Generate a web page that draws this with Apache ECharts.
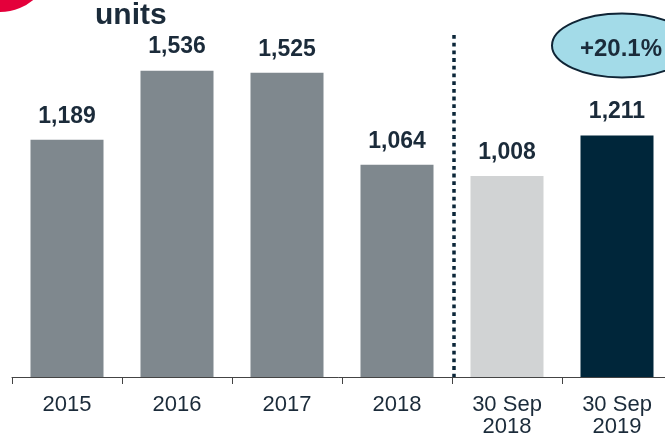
<!DOCTYPE html>
<html>
<head>
    <meta charset="utf-8">
    <script src="https://cdn.jsdelivr.net/npm/echarts@6/dist/echarts.min.js"></script>
</head>
<body style="margin:0">
<div id="main" style="width: 665px;height:438px;"></div>
<script type="text/javascript">
    // data
    var categories = ['2015', '2016', '2017', '2018', '30 Sep\n2018', '30 Sep\n2019'];
    var unitValues = [1189, 1536, 1525, 1064, 1008, 1211];
    var growthText = '+20.1%';

    var barColors = ['#7f888e', '#7f888e', '#7f888e', '#7f888e', '#d1d3d4', '#00263a'];
    var navy = '#1b2b3a';

    var myChart = echarts.init(document.getElementById('main'));

    var option = {
        animation: false,
        grid: {
            left: 12, top: 18, width: 660, height: 359,
            containLabel: false, outerBoundsMode: 'none'
        },
        xAxis: {
            type: 'category',
            data: categories,
            axisLine: { lineStyle: { color: '#444', width: 1 } },
            axisTick: { show: true, alignWithLabel: false, length: 7, lineStyle: { color: '#444' } },
            axisLabel: {
                color: navy,
                fontFamily: 'Liberation Sans, Arial',
                fontSize: 22,
                lineHeight: 22,
                margin: 17
            }
        },
        yAxis: {
            type: 'value',
            min: 0,
            max: 1800,
            show: false,
            splitLine: { show: false }
        },
        series: [{
            type: 'bar',
            barWidth: 73,
            data: unitValues.map(function (v, i) {
                return { value: v, itemStyle: { color: barColors[i] } };
            }),
            label: {
                show: true,
                position: 'top',
                distance: 12,
                color: navy,
                fontFamily: 'Liberation Sans, Arial',
                fontWeight: 'bold',
                fontSize: 23,
                lineHeight: 23,
                formatter: function (p) {
                    return p.value.toLocaleString('en-US');
                }
            }
        }]
    };

    myChart.setOption(option);

    // decorations placed from the axis scale
    var x3 = myChart.convertToPixel({ xAxisIndex: 0 }, 3);
    var x4 = myChart.convertToPixel({ xAxisIndex: 0 }, 4);
    var x5 = myChart.convertToPixel({ xAxisIndex: 0 }, 5);
    var base = myChart.convertToPixel({ yAxisIndex: 0 }, 0);
    var sepX = (x3 + x4) / 2 + 2;

    myChart.setOption({
        graphic: [
            {
                type: 'circle',
                shape: { cx: 0, cy: -40, r: 52 },
                style: { fill: '#e4003b' }
            },
            {
                type: 'text',
                x: 95,
                y: 16,
                style: {
                    text: 'units',
                    fill: navy,
                    font: 'bold 30px "Liberation Sans", Arial',
                    verticalAlign: 'middle'
                }
            },
            {
                type: 'line',
                shape: { x1: sepX, y1: 35, x2: sepX, y2: base },
                style: { stroke: '#0b2639', lineWidth: 3.5, lineDash: [3.8, 3.9] }
            },
            {
                type: 'ellipse',
                shape: { cx: x5 + 5, cy: 45.5, rx: 70, ry: 32 },
                style: { fill: '#a3dbe8', stroke: '#0f2435', lineWidth: 2 }
            },
            {
                type: 'text',
                x: x5 + 4,
                y: 49,
                style: {
                    text: growthText,
                    fill: navy,
                    font: 'bold 24px "Liberation Sans", Arial',
                    align: 'center',
                    verticalAlign: 'middle'
                }
            }
        ]
    });
</script>
</body>
</html>
